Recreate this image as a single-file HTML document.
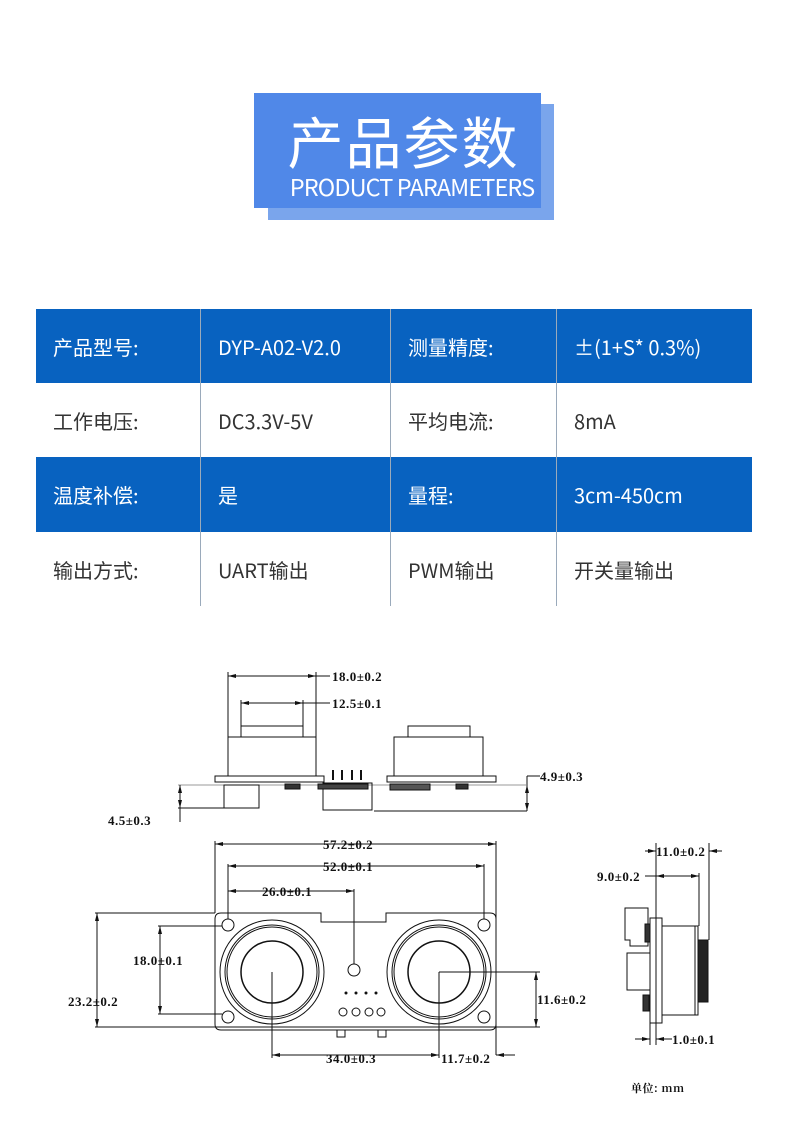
<!DOCTYPE html>
<html><head><meta charset="utf-8"><style>
body{margin:0;width:790px;height:1122px;background:#fff;position:relative;overflow:hidden;font-family:"Noto Sans CJK SC","Liberation Sans",sans-serif}
.b1{position:absolute;left:268px;top:104px;width:286px;height:116px;background:#7aa5ec}
.b2{position:absolute;left:254px;top:93px;width:287px;height:115px;background:#5088e8}
.t1{position:absolute;left:254px;width:287px;top:106px;padding-left:12px;box-sizing:border-box;text-align:center;color:#fff;font-size:56px;line-height:70px;font-family:"Noto Sans CJK SC",sans-serif;font-weight:400;letter-spacing:2px}
.t2{position:absolute;left:262px;width:300px;top:171px;text-align:center;color:#fff;font-size:23.5px;line-height:30px;letter-spacing:-0.9px;font-family:"Noto Sans CJK SC",sans-serif;font-weight:400}
.row{position:absolute;left:36px;width:716px;height:74px}
.blue{background:#0862c0;color:#fff}
.c{position:absolute;top:0;line-height:76px;font-size:20px;color:#333;font-family:"Noto Sans CJK SC",sans-serif;font-weight:400}
.blue .c{color:#fff}
.vl{position:absolute;top:309px;height:297px;width:1px;background:#9aaabb}
svg text{font-family:"Liberation Serif",serif;font-size:13px;font-weight:bold;fill:#111;letter-spacing:0.5px}
</style></head><body>
<div class="b1"></div><div class="b2"></div>
<div class="t1">产品参数</div>
<div class="t2">PRODUCT PARAMETERS</div>

<div class="row blue" style="top:309px"><div class="c" style="left:17px">产品型号:</div><div class="c" style="left:182px">DYP-A02-V2.0</div><div class="c" style="left:372px">测量精度:</div><div class="c" style="left:538px">±(1+S* 0.3%)</div></div>
<div class="row" style="top:383px"><div class="c" style="left:17px">工作电压:</div><div class="c" style="left:182px">DC3.3V-5V</div><div class="c" style="left:372px">平均电流:</div><div class="c" style="left:538px">8mA</div></div>
<div class="row blue" style="top:457px;height:75px"><div class="c" style="left:17px">温度补偿:</div><div class="c" style="left:182px">是</div><div class="c" style="left:372px">量程:</div><div class="c" style="left:538px">3cm-450cm</div></div>
<div class="row" style="top:532px"><div class="c" style="left:17px">输出方式:</div><div class="c" style="left:182px">UART输出</div><div class="c" style="left:372px">PWM输出</div><div class="c" style="left:538px">开关量输出</div></div>
<div class="vl" style="left:200px"></div><div class="vl" style="left:390px"></div><div class="vl" style="left:556px"></div>

<svg width="790" height="1122" style="position:absolute;left:0;top:0" fill="none" stroke="#111" stroke-width="1">
<defs><marker id="a" markerWidth="8" markerHeight="6" refX="8" refY="3" orient="auto-start-reverse"><path d="M0,1 L8,3 L0,5z" fill="#111" stroke="none"/></marker></defs>
<rect x="241" y="726" width="62" height="11"/><rect x="228" y="737" width="88" height="39"/>
<rect x="408" y="726" width="62" height="11"/><rect x="394" y="737" width="89" height="39"/>
<rect x="215" y="776" width="109" height="6"/><rect x="387" y="776" width="109" height="6"/>
<line x1="178" y1="785" x2="526" y2="785" stroke="#999"/>
<rect x="224" y="785" width="35" height="23"/>
<g stroke-width="2"><line x1="333" y1="770" x2="333" y2="780"/><line x1="342" y1="770" x2="342" y2="780"/><line x1="352" y1="770" x2="352" y2="780"/><line x1="361" y1="770" x2="361" y2="780"/></g>
<rect x="323" y="783" width="49" height="27"/>
<rect x="285" y="784" width="15" height="5" fill="#333"/><rect x="390" y="784" width="40" height="6" fill="#555"/><rect x="456" y="784" width="12" height="5" fill="#333"/><rect x="318" y="784" width="50" height="5" fill="#444"/>
<line x1="228" y1="672" x2="228" y2="737"/><line x1="316" y1="672" x2="316" y2="737"/>
<line x1="228" y1="676" x2="316" y2="676" marker-start="url(#a)" marker-end="url(#a)"/><line x1="316" y1="676" x2="330" y2="676"/>
<line x1="241" y1="700" x2="241" y2="726"/><line x1="303" y1="700" x2="303" y2="726"/>
<line x1="241" y1="703" x2="303" y2="703" marker-start="url(#a)" marker-end="url(#a)"/><line x1="303" y1="703" x2="330" y2="703"/>
<line x1="180" y1="785" x2="180" y2="808" marker-start="url(#a)" marker-end="url(#a)"/><line x1="178" y1="808" x2="224" y2="808"/><line x1="180" y1="808" x2="180" y2="822"/>
<line x1="374" y1="811" x2="527" y2="811"/><line x1="527" y1="785" x2="527" y2="811" marker-start="url(#a)" marker-end="url(#a)"/><line x1="527" y1="776" x2="540" y2="776"/><line x1="527" y1="776" x2="527" y2="785"/>
<path d="M221,913 H321 V922 H386 V913 H490 Q496,913 496,919 V1024 Q496,1030 490,1030 H221 Q215,1030 215,1024 V919 Q215,913 221,913z"/>
<circle cx="228" cy="925" r="6"/><circle cx="484" cy="925" r="6"/><circle cx="228" cy="1017" r="6"/><circle cx="484" cy="1017" r="6"/>
<circle cx="272" cy="972" r="52"/><circle cx="272" cy="972" r="47"/><circle cx="272" cy="972" r="45"/><circle cx="272" cy="972" r="31" stroke-width="1.5"/>
<circle cx="439" cy="972" r="52"/><circle cx="439" cy="972" r="47"/><circle cx="439" cy="972" r="45"/><circle cx="439" cy="972" r="31" stroke-width="1.5"/>
<circle cx="354" cy="970" r="6"/>
<g fill="#111" stroke="none"><circle cx="346" cy="993" r="1.5"/><circle cx="356" cy="993" r="1.5"/><circle cx="366" cy="993" r="1.5"/><circle cx="376" cy="993" r="1.5"/></g>
<circle cx="343" cy="1012" r="4"/><circle cx="356" cy="1012" r="4"/><circle cx="369" cy="1012" r="4"/><circle cx="381" cy="1012" r="4"/>
<rect x="337" y="1030" width="8" height="7"/><rect x="378" y="1030" width="8" height="7"/>
<line x1="215" y1="841" x2="215" y2="913"/><line x1="496" y1="841" x2="496" y2="1055"/>
<line x1="215" y1="844" x2="496" y2="844" marker-start="url(#a)" marker-end="url(#a)"/>
<line x1="228" y1="864" x2="228" y2="919"/><line x1="484" y1="864" x2="484" y2="919"/>
<line x1="228" y1="866" x2="484" y2="866" marker-start="url(#a)" marker-end="url(#a)"/>
<line x1="228" y1="891" x2="354" y2="891" marker-start="url(#a)" marker-end="url(#a)"/><line x1="354" y1="889" x2="354" y2="964"/>
<line x1="95" y1="913" x2="215" y2="913"/><line x1="95" y1="1027" x2="540" y2="1027"/>
<line x1="97" y1="913" x2="97" y2="1027" marker-start="url(#a)" marker-end="url(#a)"/>
<line x1="158" y1="926" x2="222" y2="926"/><line x1="158" y1="1014" x2="222" y2="1014"/>
<line x1="160" y1="926" x2="160" y2="1014" marker-start="url(#a)" marker-end="url(#a)"/>
<line x1="272" y1="972" x2="272" y2="1058"/><line x1="439" y1="972" x2="439" y2="1058"/><line x1="439" y1="972" x2="540" y2="972"/>
<line x1="536" y1="972" x2="536" y2="1027" marker-start="url(#a)" marker-end="url(#a)"/>
<line x1="272" y1="1055" x2="439" y2="1055" marker-start="url(#a)" marker-end="url(#a)"/>
<line x1="515" y1="1055" x2="496" y2="1055" marker-end="url(#a)"/>
<rect x="650" y="918" width="6" height="105"/><rect x="656" y="918" width="6" height="105"/>
<rect x="662" y="926" width="36" height="89"/><line x1="695" y1="926" x2="695" y2="1015"/>
<rect x="698" y="940" width="10" height="62" fill="#222"/>
<path d="M625,908 H648 V946 H630 V940 H625z"/><rect x="645" y="924" width="5" height="18" fill="#333"/>
<rect x="627" y="953" width="23" height="37"/><rect x="643" y="995" width="6" height="16" fill="#333"/>
<line x1="656" y1="843" x2="656" y2="918"/><line x1="709" y1="843" x2="709" y2="940"/>
<line x1="645" y1="851" x2="656" y2="851" marker-end="url(#a)"/><line x1="722" y1="851" x2="709" y2="851" marker-end="url(#a)"/>
<line x1="699" y1="873" x2="699" y2="926"/>
<line x1="645" y1="876" x2="699" y2="876" marker-end="url(#a)"/><line x1="656" y1="876" x2="699" y2="876" marker-start="url(#a)"/>
<line x1="650" y1="1023" x2="650" y2="1045"/><line x1="656" y1="1023" x2="656" y2="1045"/>
<line x1="635" y1="1039" x2="650" y2="1039" marker-end="url(#a)"/><line x1="672" y1="1039" x2="656" y2="1039" marker-end="url(#a)"/>
<g stroke="none">
<text x="332" y="681">18.0±0.2</text><text x="332" y="708">12.5±0.1</text>
<text x="108" y="825">4.5±0.3</text><text x="540" y="781">4.9±0.3</text>
<text x="323" y="849">57.2±0.2</text>
<text x="323" y="871">52.0±0.1</text><text x="262" y="896">26.0±0.1</text>
<text x="133" y="965">18.0±0.1</text><text x="68" y="1006">23.2±0.2</text><text x="537" y="1004">11.6±0.2</text>
<text x="326" y="1063">34.0±0.3</text><text x="441" y="1063">11.7±0.2</text>
<text x="656" y="856">11.0±0.2</text><text x="597" y="881">9.0±0.2</text><text x="672" y="1044">1.0±0.1</text>
<text x="631" y="1092" style="font-family:'Noto Serif CJK SC',serif;font-size:11px">单位: mm</text>
</g>
</svg>
</body></html>
